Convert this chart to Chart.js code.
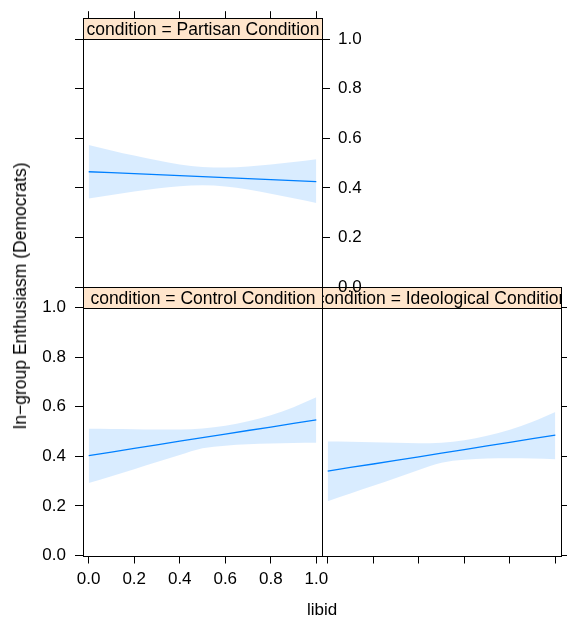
<!DOCTYPE html>
<html><head><meta charset="utf-8">
<script src="https://cdn.jsdelivr.net/npm/chart.js@4/dist/chart.umd.min.js"></script>
<style>
html,body{margin:0;padding:0;background:#fff;}
#wrap{position:relative;width:567px;height:621px;overflow:hidden;font-family:"Liberation Sans",Arial,sans-serif;color:#000;}
canvas{position:absolute;left:0;top:0;}
#ytitle{position:absolute;left:20px;top:296px;transform:translate(-50%,-50%) rotate(-90deg);white-space:nowrap;font-size:17.5px;line-height:20px;}
#xtitle{position:absolute;left:322px;top:610px;transform:translate(-50%,-50%);white-space:nowrap;font-size:17px;line-height:20px;}
</style></head><body>
<div id="wrap">
<canvas id="cC" width="567" height="621"></canvas>
<canvas id="cI" width="567" height="621"></canvas>
<canvas id="cP" width="567" height="621"></canvas>
<div id="ytitle">In−group Enthusiasm (Democrats)</div>
<div id="xtitle">libid</div>
</div>
<script>
// ---- data ----
const libid = [0, 0.1, 0.2, 0.3, 0.4, 0.5, 0.6, 0.7, 0.8, 0.9, 1.0];
const partisanFit   = [0.465, 0.461, 0.457, 0.453, 0.449, 0.445, 0.441, 0.437, 0.433, 0.429, 0.425];
const partisanUpper = [0.573, 0.551, 0.530, 0.511, 0.494, 0.484, 0.482, 0.486, 0.494, 0.504, 0.515];
const partisanLower = [0.357, 0.371, 0.385, 0.397, 0.406, 0.410, 0.405, 0.393, 0.376, 0.358, 0.339];
const controlFit    = [0.403, 0.417, 0.432, 0.446, 0.461, 0.475, 0.489, 0.504, 0.518, 0.533, 0.547];
const controlUpper  = [0.511, 0.510, 0.509, 0.508, 0.508, 0.512, 0.523, 0.541, 0.566, 0.598, 0.638];
const controlLower  = [0.292, 0.320, 0.348, 0.377, 0.405, 0.432, 0.443, 0.449, 0.452, 0.454, 0.455];
const ideoFit       = [0.340, 0.355, 0.369, 0.384, 0.398, 0.413, 0.427, 0.442, 0.456, 0.471, 0.485];
const ideoUpper     = [0.460, 0.459, 0.457, 0.455, 0.453, 0.455, 0.465, 0.483, 0.507, 0.539, 0.579];
const ideoLower     = [0.219, 0.250, 0.281, 0.313, 0.345, 0.374, 0.386, 0.391, 0.392, 0.391, 0.388];
const xTicks = [0, 0.2, 0.4, 0.6, 0.8, 1.0];
const yTicks = [0, 0.2, 0.4, 0.6, 0.8, 1.0];
const stripLabels = ['condition = Partisan Condition', 'condition = Control Condition', 'condition = Ideological Condition'];

// ---- styling ----
const FONT = {family: '"Liberation Sans", Arial, sans-serif', size: 17};
const STRIP_FONT = '17.5px "Liberation Sans", Arial, sans-serif';
const LINE = '#0080FF';
const BAND = 'rgba(0,128,255,0.15)';
const STRIP = '#FFE5CC';
const xMin = -0.025, xMax = 1.025;
const yMaxTop = 1 + 21 / 249;
const yMaxBottom = 1 + 20.5 / 248;

const panelPlugin = {
  id: 'panel',
  afterDatasetsDraw(chart, args, opts) {
    const {ctx, chartArea: a, scales} = chart;
    const yTop = scales.y.getPixelForValue(1);
    const L = Math.round(a.left) + 0.5, R = Math.round(a.right) + 0.5;
    const T = Math.round(a.top) + 0.5, M = Math.round(yTop) + 0.5, B = Math.round(a.bottom) + 0.5;
    ctx.save();
    ctx.lineWidth = 1; ctx.strokeStyle = '#000';
    ctx.fillStyle = STRIP;
    ctx.fillRect(L, T, R - L, M - T);
    ctx.save();
    ctx.beginPath(); ctx.rect(L, T, R - L, M - T); ctx.clip();
    ctx.fillStyle = '#000';
    ctx.font = STRIP_FONT;
    ctx.textAlign = 'center'; ctx.textBaseline = 'middle';
    ctx.fillText(opts.label, (L + R) / 2, (T + M) / 2 + 1);
    ctx.restore();
    ctx.strokeRect(L, T, R - L, M - T);
    ctx.strokeRect(L, M, R - L, B - M);
    ctx.restore();
  }
};

function tickSetter(vals) { return s => { s.ticks = vals.map(v => ({value: v})); }; }
function gridOpts(len) {
  return {drawOnChartArea: false, drawTicks: true, tickLength: len, color: '#000', tickColor: '#000', lineWidth: 1};
}
function xScale(position, labels, len, size) {
  return {type: 'linear', position, min: xMin, max: xMax,
    afterBuildTicks: tickSetter(xTicks),
    afterFit: s => { s.height = size; },
    ticks: {display: labels, font: FONT, color: '#000', padding: 6, maxRotation: 0, autoSkip: false, callback: v => v.toFixed(1)},
    grid: gridOpts(len), border: {display: false}};
}
function yScale(position, labels, len, size, yMax, pad) {
  return {type: 'linear', axis: 'y', position, min: 0, max: yMax,
    afterBuildTicks: tickSetter(yTicks),
    afterFit: s => { s.width = size; },
    ticks: {display: labels, font: FONT, color: '#000', padding: pad, autoSkip: false, callback: v => v.toFixed(1)},
    grid: gridOpts(len), border: {display: false}};
}
function panelData(fit, lower, upper) {
  const pts = arr => libid.map((x, i) => ({x, y: arr[i]}));
  return {datasets: [
    {data: pts(fit), borderColor: LINE, borderWidth: 1.3, pointRadius: 0, fill: false, tension: 0},
    {data: pts(upper), borderWidth: 0, borderColor: 'rgba(0,0,0,0)', pointRadius: 0, fill: '+1', backgroundColor: BAND, cubicInterpolationMode: 'monotone'},
    {data: pts(lower), borderWidth: 0, borderColor: 'rgba(0,0,0,0)', pointRadius: 0, fill: false, cubicInterpolationMode: 'monotone'}
  ]};
}
function makeChart(id, data, label, padding, scales) {
  return new Chart(document.getElementById(id), {
    type: 'line', data,
    options: {responsive: false, animation: false, devicePixelRatio: 1,
      layout: {padding},
      plugins: {legend: {display: false}, tooltip: {enabled: false}, panel: {label}},
      scales},
    plugins: [panelPlugin]
  });
}

// Control (bottom-left)
makeChart('cC', panelData(controlFit, controlLower, controlUpper), stripLabels[1],
  {left: 23, top: 287, right: 245, bottom: 25.5},
  {x: xScale('bottom', true, 8, 40), y: yScale('left', true, 8, 60, yMaxBottom, 9)});
// Ideological (bottom-right)
makeChart('cI', panelData(ideoFit, ideoLower, ideoUpper), stripLabels[2],
  {left: 322, top: 287, right: 0, bottom: 57.5},
  {x: xScale('bottom', false, 8, 8), y: yScale('right', false, 6, 6, yMaxBottom, 0)});
// Partisan (top-left)
makeChart('cP', panelData(partisanFit, partisanLower, partisanUpper), stripLabels[0],
  {left: 75, top: 10, right: 205, bottom: 334},
  {x: xScale('top', false, 7, 7), y: yScale('left', false, 8, 8, yMaxTop, 0), y2: yScale('right', true, 8, 40, yMaxTop, 8)});
</script>
</body></html>
